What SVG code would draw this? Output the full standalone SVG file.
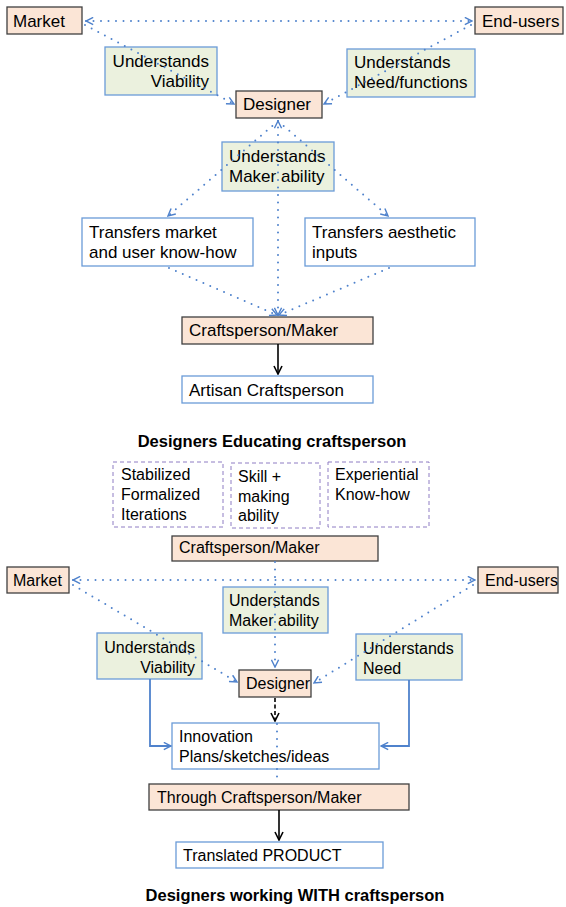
<svg xmlns="http://www.w3.org/2000/svg" width="566" height="907" viewBox="0 0 566 907">
  <style>
    text { font-family: "Liberation Sans", Arial, sans-serif; fill: #000; }
    .t17 { font-size: 17px; }
    .t16 { font-size: 16px; }
    .title { font-size: 16.5px; font-weight: bold; text-anchor: middle; }
    .end { text-anchor: end; }
    .peach { fill: #fbe5d6; stroke: #3f3f3f; stroke-width: 1.3; }
    .green { fill: #ebf1de; stroke: #6a9bd8; stroke-width: 1.3; }
    .plain { fill: #ffffff; stroke: #6a9bd8; stroke-width: 1.3; }
    .dash { fill: #ffffff; stroke: #8e7cc3; stroke-width: 1; stroke-dasharray: 4 3; }
    .dot { fill: none; stroke: #4f82cc; stroke-width: 2; stroke-linecap: round; stroke-dasharray: 0 7.5; }
    .solid { fill: none; stroke: #4f82cc; stroke-width: 1.8; }
    .black { fill: none; stroke: #000; stroke-width: 1.6; }
    .blackdash { fill: none; stroke: #000; stroke-width: 1.6; stroke-dasharray: 4 2.5; }
  </style>
  <defs>
    <marker id="chev" viewBox="0 0 10 10" refX="9" refY="5" markerWidth="9" markerHeight="9" markerUnits="userSpaceOnUse" orient="auto-start-reverse">
      <path d="M1,1 L9,5 L1,9" fill="none" stroke="#4f82cc" stroke-width="1.6"/>
    </marker>
    <marker id="chevk" viewBox="0 0 10 10" refX="9" refY="5" markerWidth="10" markerHeight="10" markerUnits="userSpaceOnUse" orient="auto">
      <path d="M1,1 L9,5 L1,9" fill="none" stroke="#000" stroke-width="1.6"/>
    </marker>
  </defs>

  <!-- Upper diagram: designers educating the craftsperson -->
  <g id="nodes-top">
    <g id="market-1"><rect class="peach" x="7" y="7" width="75" height="27"/><text class="t17" x="13" y="27">Market</text></g>
    <g id="endusers-1"><rect class="peach" x="475" y="7" width="88" height="27"/><text class="t17" x="482" y="27">End-users</text></g>
    <g id="viability-1"><rect class="green" x="105" y="47" width="112" height="48"/><text class="t17 end" x="209" y="67">Understands</text><text class="t17 end" x="209" y="87">Viability</text></g>
    <g id="need-1"><rect class="green" x="347" y="49" width="128" height="48"/><text class="t17" x="354" y="68">Understands</text><text class="t17" x="354" y="88">Need/functions</text></g>
    <g id="designer-1"><rect class="peach" x="236" y="91" width="86" height="27"/><text class="t17" x="243" y="110">Designer</text></g>
    <g id="maker-ability-1"><rect class="green" x="222" y="142" width="112" height="49"/><text class="t17" x="229" y="162">Understands</text><text class="t17" x="229" y="182">Maker ability</text></g>
    <g id="transfers-market"><rect class="plain" x="82" y="218" width="171" height="48"/><text class="t17" x="89" y="238">Transfers market</text><text class="t17" x="89" y="258">and user know-how</text></g>
    <g id="transfers-aesthetic"><rect class="plain" x="305" y="218" width="170" height="48"/><text class="t17" x="312" y="238">Transfers aesthetic</text><text class="t17" x="312" y="258">inputs</text></g>
    <g id="craftsperson-1"><rect class="peach" x="182" y="317" width="191" height="27"/><text class="t17" x="189" y="336">Craftsperson/Maker</text></g>
    <g id="artisan"><rect class="plain" x="182" y="376" width="191" height="27"/><text class="t17" x="189" y="396">Artisan Craftsperson</text></g>
  </g>

  <g id="connectors-top">
    <line class="dot" x1="86" y1="21" x2="472" y2="21" marker-start="url(#chev)" marker-end="url(#chev)"/>
    <line class="dot" x1="85" y1="25" x2="234" y2="104" marker-end="url(#chev)"/>
    <line class="dot" x1="471" y1="25" x2="324" y2="104" marker-end="url(#chev)"/>
    <line class="dot" x1="278" y1="315" x2="278" y2="121" marker-start="url(#chev)" marker-end="url(#chev)"/>
    <line class="dot" x1="278" y1="121" x2="168" y2="216" marker-end="url(#chev)"/>
    <line class="dot" x1="278" y1="121" x2="388" y2="216" marker-end="url(#chev)"/>
    <line class="dot" x1="169" y1="268" x2="277" y2="315" marker-end="url(#chev)"/>
    <line class="dot" x1="389" y1="268" x2="279" y2="315" marker-end="url(#chev)"/>
    <line class="black" x1="278" y1="344" x2="278" y2="374" marker-end="url(#chevk)"/>
  </g>

  <text class="title" x="272" y="447">Designers Educating craftsperson</text>

  <!-- Qualities of the maker -->
  <g id="qualities">
    <g id="stabilized"><rect class="dash" x="113" y="462" width="110" height="65"/><text class="t16" x="121" y="480">Stabilized</text><text class="t16" x="121" y="500">Formalized</text><text class="t16" x="121" y="520">Iterations</text></g>
    <g id="skill"><rect class="dash" x="231" y="463" width="89" height="65"/><text class="t16" x="238" y="482">Skill +</text><text class="t16" x="238" y="502">making</text><text class="t16" x="238" y="521">ability</text></g>
    <g id="experiential"><rect class="dash" x="328" y="462" width="101" height="65"/><text class="t16" x="335" y="480">Experiential</text><text class="t16" x="335" y="500">Know-how</text></g>
  </g>

  <!-- Lower diagram: designers working with the craftsperson -->
  <g id="nodes-bottom">
    <g id="craftsperson-2"><rect class="peach" x="172" y="536" width="206" height="25"/><text class="t16" x="179" y="553">Craftsperson/Maker</text></g>
    <g id="market-2"><rect class="peach" x="7" y="567" width="62" height="26"/><text class="t16" x="13" y="586">Market</text></g>
    <g id="endusers-2"><rect class="peach" x="478" y="567" width="80" height="26"/><text class="t16" x="485" y="586">End-users</text></g>
    <g id="maker-ability-2"><rect class="green" x="223" y="587" width="105" height="46"/><text class="t16" x="229" y="606">Understands</text><text class="t16" x="229" y="626">Maker ability</text></g>
    <g id="viability-2"><rect class="green" x="97" y="633" width="105" height="46"/><text class="t16 end" x="195" y="653">Understands</text><text class="t16 end" x="195" y="673">Viability</text></g>
    <g id="need-2"><rect class="green" x="356" y="634" width="106" height="46"/><text class="t16" x="363" y="654">Understands</text><text class="t16" x="363" y="674">Need</text></g>
    <g id="designer-2"><rect class="peach" x="239" y="670" width="72" height="27"/><text class="t16" x="246" y="689">Designer</text></g>
    <g id="innovation"><rect class="plain" x="172" y="723" width="207" height="46"/><text class="t16" x="179" y="742">Innovation</text><text class="t16" x="179" y="762">Plans/sketches/ideas</text></g>
    <g id="through-craftsperson"><rect class="peach" x="149" y="784" width="260" height="26"/><text class="t16" x="157" y="803">Through Craftsperson/Maker</text></g>
    <g id="product"><rect class="plain" x="176" y="842" width="207" height="26"/><text class="t16" x="183" y="861">Translated PRODUCT</text></g>
  </g>

  <g id="connectors-bottom">
    <line class="dot" x1="73" y1="580" x2="475" y2="580" marker-start="url(#chev)" marker-end="url(#chev)"/>
    <line class="dot" x1="275" y1="562" x2="275" y2="667" marker-end="url(#chev)"/>
    <line class="dot" x1="73" y1="585" x2="237" y2="682" marker-end="url(#chev)"/>
    <line class="dot" x1="473" y1="585" x2="314" y2="683" marker-end="url(#chev)"/>
    <polyline class="solid" points="150,679 150,746 171,746" marker-end="url(#chev)"/>
    <polyline class="solid" points="409,680 409,746 381,746" marker-end="url(#chev)"/>
    <line class="blackdash" x1="275" y1="698" x2="275" y2="721" marker-end="url(#chevk)"/>
    <line class="dot" x1="277" y1="724" x2="277" y2="783"/>
    <line class="black" x1="279" y1="810" x2="279" y2="840" marker-end="url(#chevk)"/>
  </g>

  <text class="title" x="295" y="901">Designers working WITH craftsperson</text>
</svg>
